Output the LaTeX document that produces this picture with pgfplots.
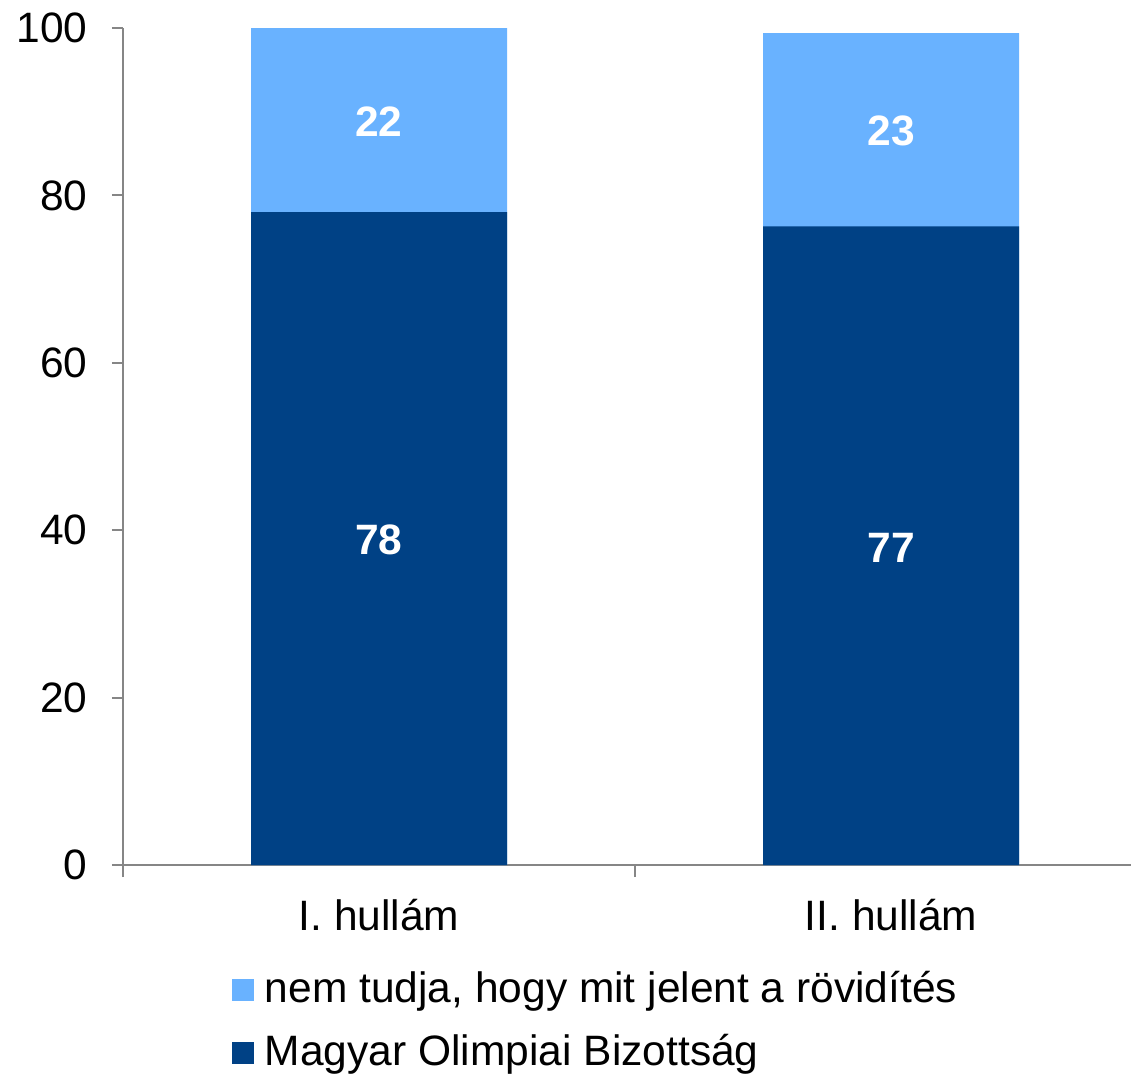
\documentclass[border=0pt]{standalone}
\usepackage{pgfplots}
\pgfplotsset{compat=1.18}
\usepackage{fontspec}
\setmainfont{Liberation Sans}
\definecolor{lightb}{RGB}{105,178,255}
\definecolor{darkb}{RGB}{0,65,133}
\definecolor{axgray}{RGB}{134,134,134}
\begin{document}
\fontsize{17pt}{20pt}\selectfont
\begin{tikzpicture}
\begin{axis}[
  at={(0,0)}, anchor=south west,
  scale only axis, width=403.2pt, height=334.8pt,
  xmin=-0.5, xmax=1.46875, ymin=0, ymax=100,
  axis x line*=bottom, axis y line*=left,
  axis line style={axgray, line width=0.8pt},
  every tick/.style={axgray, line width=0.8pt},
  tick align=outside,
  ytick={0,20,40,60,80,100},
  major tick length=4.4pt,
  minor tick length=4.8pt,
  xtick={0,1}, xticklabels={I. hullám, II. hullám},
  minor xtick={-0.5,0.5,1.5},
  major x tick style={draw=none},
  ticklabel style={font=\fontsize{17pt}{20pt}\selectfont},
  /pgf/number format/assume math mode=true,
  yticklabel style={xshift=-4pt},
  xticklabel style={yshift=-3.4pt},
  legend style={at={(axis description cs:0.1081,-0.1214)}, anchor=north west,
    draw=none, fill=none, inner sep=0pt, outer sep=0pt,
    font=\fontsize{17pt}{20pt}\selectfont, row sep=5.8pt,
    /tikz/every odd column/.style={column sep=2.4pt}},
  legend cell align=left,
  legend image code/.code={\fill[#1] (0pt,-4.4pt) rectangle (8.8pt,4.4pt);},
]
\addplot[ybar, bar width=0.5, bar shift=0pt, fill=lightb, draw=none] coordinates {(0,100) (1,99.4)};
\addplot[ybar, bar width=0.5, bar shift=0pt, fill=darkb, draw=none] coordinates {(0,78) (1,76.3)};
\addplot[draw=none, mark=none, forget plot, nodes near coords, point meta=explicit symbolic,
  nodes near coords style={anchor=center, text=white, font=\fontsize{17pt}{20pt}\selectfont\bfseries}]
  table[meta=lab] {
x y lab
0 38.8 78
0 88.8 22
1 37.9 77
1 87.7 23
};
\legend{{nem tudja, hogy mit jelent a rövidítés}, {Magyar Olimpiai Bizottság}}
\end{axis}
\pgfresetboundingbox
\path (-49.2pt,-83.6pt) rectangle (403.2pt,346pt);
\end{tikzpicture}
\end{document}
